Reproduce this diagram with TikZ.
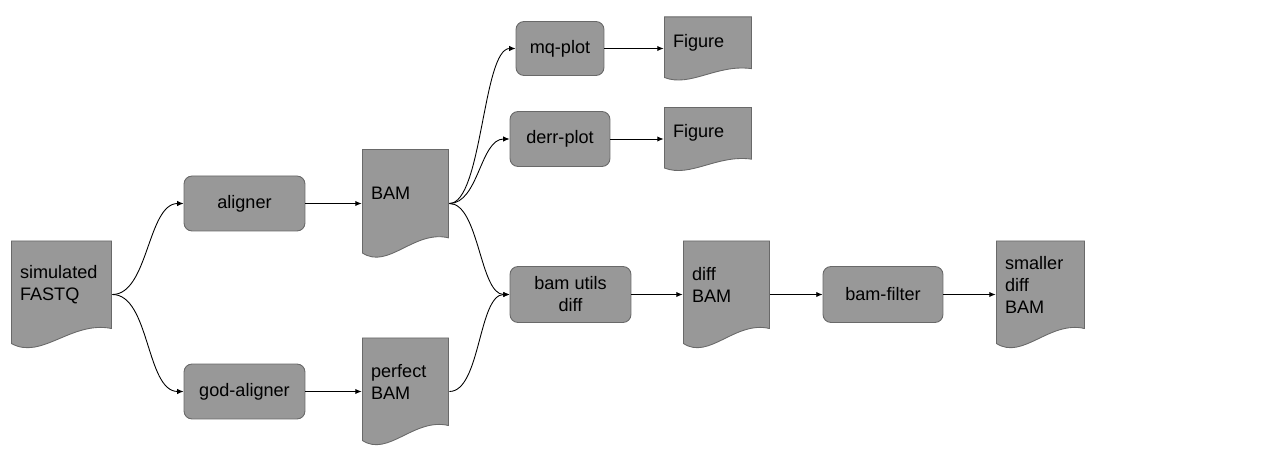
\documentclass[tikz,border=0pt]{standalone}
\usepackage{fontspec}
\setmainfont{Liberation Sans}
\usetikzlibrary{calc}
\usetikzlibrary{arrows.meta}

\definecolor{boxfill}{RGB}{152,152,152}
\definecolor{boxline}{RGB}{105,105,105}

\tikzset{
  box/.style={draw=boxline, fill=boxfill, rounded corners=0.16cm, inner sep=0pt, align=center, line width=0.5pt},
  doc/.style={inner sep=0pt, path picture={
      \filldraw[fill=boxfill, draw=boxline, line width=0.5pt]
        let \p1=(path picture bounding box.south west), \p2=(path picture bounding box.north east),
            \n1={\x2-\x1}, \n2={\y2-\y1} in
        (\x1+0.25pt,\y2-0.25pt) -- (\x2-0.25pt,\y2-0.25pt) -- (\x2-0.25pt,\y1+0.185*\n2)
        .. controls (\x1+0.6*\n1,\y1+0.26*\n2) and (\x1+0.3*\n1,\y1-0.11*\n2) .. (\x1+0.25pt,\y1+0.046*\n2) -- cycle;
    }},
  doctext/.style={anchor=west, align=left, inner sep=0pt, xshift=0.18cm, yshift=#1},
  flow/.style={-{Latex[length=3.6pt,width=3pt]}, line width=0.5pt}
}

\begin{document}
\begin{tikzpicture}[x=0.02cm, y=-0.02cm, font=\fontsize{10.3pt}{12.5pt}\selectfont]
  % \draw[step=1cm, gray!20!white, very thin] (0,0) grid (1269,472);
  \useasboundingbox (0,0) rectangle (1269,472);

  \node[doc, minimum width=2.02cm, minimum height=2.16cm, label={[doctext=0.2cm]west:simulated\\FASTQ}] (n_fastq) at (61.5,294.5) {};

  \node[box, minimum width=2.42cm, minimum height=1.1cm] (n_aligner) at (244.5,203.5) {aligner};
  \node[box, minimum width=2.42cm, minimum height=1.1cm] (n_god) at (244.5,391.5) {god-aligner};

  \node[doc, minimum width=1.74cm, minimum height=2.18cm, label={[doctext=0.2cm]west:BAM}] (n_bam) at (405.5,203.5) {};
  \node[doc, minimum width=1.74cm, minimum height=2.16cm, label={[doctext=0.2cm]west:perfect\\BAM}] (n_perfect) at (405.5,391.5) {};

  \node[box, minimum width=1.76cm, minimum height=1.08cm] (n_mq) at (560,48.5) {mq-plot};
  \node[box, minimum width=2.0cm, minimum height=1.1cm] (n_derr) at (560,139) {derr-plot};
  \node[doc, minimum width=1.76cm, minimum height=1.28cm, label={[doctext=0.12cm]west:Figure}] (n_fig_1) at (708,48.5) {};
  \node[doc, minimum width=1.76cm, minimum height=1.28cm, label={[doctext=0.12cm]west:Figure}] (n_fig_2) at (708,139) {};

  \node[box, minimum width=2.42cm, minimum height=1.12cm] (n_bamdiff) at (570.5,294.5) {bam utils\\diff};
  \node[doc, minimum width=1.74cm, minimum height=2.16cm, label={[doctext=0.2cm]west:diff\\BAM}] (n_diff) at (726.5,294.5) {};
  \node[box, minimum width=2.4cm, minimum height=1.12cm] (n_filter) at (883,294.5) {bam-filter};
  \node[doc, minimum width=1.78cm, minimum height=2.16cm, label={[doctext=0.2cm]west:smaller\\diff\\BAM}] (n_smaller) at (1040.5,294.5) {};

  \draw [flow] (n_fastq.east) to[out=0, in=180, looseness=0.8] (n_aligner.west);
  \draw [flow] (n_fastq.east) to[out=0, in=180, looseness=0.8] (n_god.west);
  \draw [flow] (n_aligner.east) -- (n_bam.west);
  \draw [flow] (n_god.east) -- (n_perfect.west);
  \draw [flow] (n_bam.east) to[out=0, in=180, looseness=0.5] (n_mq.west);
  \draw [flow] (n_bam.east) to[out=0, in=180, looseness=0.85] (n_derr.west);
  \draw [flow] (n_bam.east) to[out=0, in=180, looseness=0.7] (n_bamdiff.west);
  \draw [flow] (n_perfect.east) to[out=0, in=180, looseness=0.7] (n_bamdiff.west);
  \draw [flow] (n_mq.east) -- (n_fig_1.west);
  \draw [flow] (n_derr.east) -- (n_fig_2.west);
  \draw [flow] (n_bamdiff.east) -- (n_diff.west);
  \draw [flow] (n_diff.east) -- (n_filter.west);
  \draw [flow] (n_filter.east) -- (n_smaller.west);

\end{tikzpicture}
\end{document}
